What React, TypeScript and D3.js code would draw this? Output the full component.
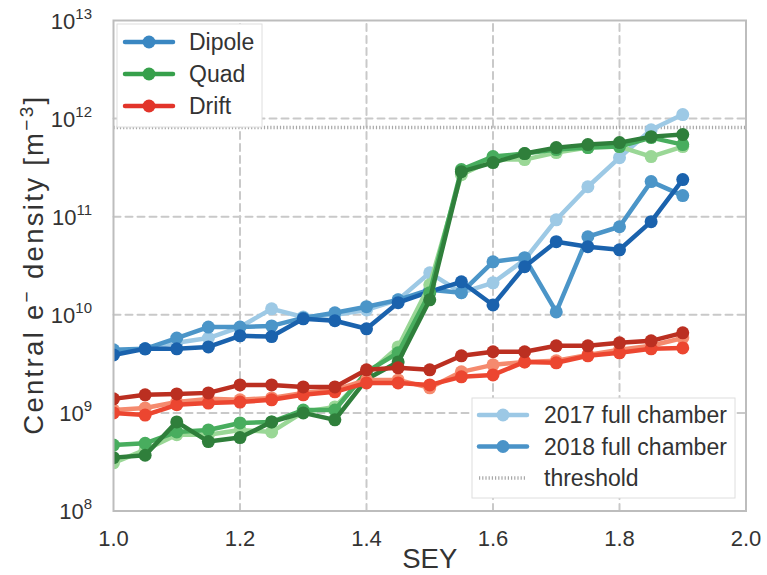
import React from "react";
import * as d3 from "d3";

// SEY scan points
const sey = [1.0, 1.05, 1.1, 1.15, 1.2, 1.25, 1.3, 1.35, 1.4, 1.45, 1.5, 1.55, 1.6, 1.65, 1.7, 1.75, 1.8, 1.85, 1.9];

// Central electron density [m^-3] per element and scan
const dipole2017 = [4.2e9, 4.5e9, 5.2e9, 5.8e9, 7.5e9, 1.15e10, 9.5e9, 1.0e10, 1.12e10, 1.42e10, 2.68e10, 1.68e10, 2.12e10, 3.64e10, 9.3e10, 2.02e11, 4.0e11, 7.7e11, 1.1e12];
const dipole2018 = [4.4e9, 4.5e9, 5.8e9, 7.5e9, 7.5e9, 7.7e9, 9.3e9, 1.05e10, 1.21e10, 1.42e10, 1.8e10, 1.68e10, 3.47e10, 3.82e10, 1.07e10, 6.25e10, 7.9e10, 2.28e11, 1.64e11];
const dipoleExtra = [3.9e9, 4.5e9, 4.5e9, 4.7e9, 6.1e9, 6.0e9, 9.1e9, 8.7e9, 7.2e9, 1.33e10, 1.72e10, 2.17e10, 1.26e10, 3.09e10, 5.56e10, 4.94e10, 4.6e10, 8.9e10, 2.39e11];

const quad2017 = [3.1e8, 4.2e8, 6.0e8, 6.0e8, 6.7e8, 6.4e8, 1.02e9, 1.15e9, 2.44e9, 4.7e9, 2.02e10, 2.68e11, 3.82e11, 3.82e11, 4.5e11, 5.06e11, 5.18e11, 4.1e11, 5.18e11];
const quad2018 = [4.7e8, 4.9e8, 6.4e8, 6.7e8, 7.9e8, 8.1e8, 1.07e9, 1.07e9, 2.62e9, 4.1e9, 1.68e10, 3.02e11, 4.1e11, 4.4e11, 4.83e11, 5.06e11, 5.18e11, 6.4e11, 5.43e11];
const quadExtra = [3.5e8, 3.7e8, 8.1e8, 5.1e8, 5.6e8, 8.1e8, 1.0e9, 8.5e8, 2.2e9, 3.31e9, 1.42e10, 2.88e11, 3.56e11, 4.4e11, 5.06e11, 5.43e11, 5.69e11, 6.55e11, 6.87e11];

const drift2017 = [1.07e9, 1.12e9, 1.29e9, 1.39e9, 1.36e9, 1.42e9, 1.6e9, 1.72e9, 2.17e9, 2.17e9, 1.8e9, 2.62e9, 3.09e9, 3.31e9, 3.4e9, 3.9e9, 4.4e9, 4.83e9, 5.8e9];
const drift2018 = [1.0e9, 9.5e8, 1.21e9, 1.26e9, 1.29e9, 1.36e9, 1.53e9, 1.64e9, 2.02e9, 2.02e9, 1.93e9, 2.33e9, 2.44e9, 3.31e9, 3.24e9, 3.82e9, 4.1e9, 4.5e9, 4.6e9];
const driftExtra = [1.39e9, 1.53e9, 1.56e9, 1.6e9, 1.93e9, 1.93e9, 1.84e9, 1.84e9, 2.75e9, 2.88e9, 2.75e9, 3.82e9, 4.2e9, 4.2e9, 4.83e9, 4.83e9, 5.18e9, 5.43e9, 6.55e9];

const thresholdValue = 8.1e11;

const xTicks = [1.0, 1.2, 1.4, 1.6, 1.8, 2.0];
const yExponents = [8, 9, 10, 11, 12, 13];

const elementLegend = [
  { label: "Dipole", color: "#3a87c2" },
  { label: "Quad", color: "#36a04b" },
  { label: "Drift", color: "#e2342a" },
];
const scanLegend = [
  { label: "2017 full chamber", color: "#9cc8e5" },
  { label: "2018 full chamber", color: "#4a93c8" },
];

const series = [
  { values: dipole2017, color: "#9dc9e5" },
  { values: dipole2018, color: "#4b95c8" },
  { values: dipoleExtra, color: "#1a62ad" },
  { values: quad2017, color: "#9ad796" },
  { values: quad2018, color: "#48ad5e" },
  { values: quadExtra, color: "#2f7f3b" },
  { values: drift2017, color: "#f58a6e" },
  { values: drift2018, color: "#ec4630" },
  { values: driftExtra, color: "#bb2f21" },
];

const W = 767;
const H = 575;
const left = 113.5;
const right = 746;
const top = 20.5;
const bottom = 511;
const FONT = "'Liberation Sans', Arial, Helvetica, sans-serif";
const TEXT = "#333333";
const TICK_FS = 22;
const LABEL_FS = 27.5;
const LEGEND_FS = 23;

export default function App() {
  const x = d3.scaleLinear().domain([1.0, 2.0]).range([left, right]);
  const y = d3.scaleLog().domain([1e8, 1e13]).range([bottom, top]);
  const line = d3
    .line<number>()
    .x((_, i) => x(sey[i]))
    .y((v) => y(v));

  const gridColor = "#c9c9c9";

  return (
    <svg
      width={W}
      height={H}
      style={{ position: "fixed", left: 0, top: 0, background: "#fff" }}
      fontFamily={FONT}
    >
      <rect x={0} y={0} width={W} height={H} fill="#fff" />
      <defs>
        <clipPath id="plot-area">
          <rect x={left} y={top} width={right - left} height={bottom - top} />
        </clipPath>
      </defs>

      {/* grid */}
      {yExponents
        .filter((e) => e > 8 && e < 13)
        .map((e) => (
          <line
            key={"gy" + e}
            x1={left}
            x2={right}
            y1={y(Math.pow(10, e))}
            y2={y(Math.pow(10, e))}
            stroke={gridColor}
            strokeWidth={2}
            strokeDasharray="7 5"
            strokeLinecap="round"
          />
        ))}
      {xTicks
        .filter((t) => t > 1.0 && t < 2.0)
        .map((t) => (
          <line
            key={"gx" + t}
            x1={x(t)}
            x2={x(t)}
            y1={bottom}
            y2={top}
            stroke={gridColor}
            strokeWidth={2}
            strokeDasharray="7 5"
            strokeLinecap="round"
          />
        ))}

      {/* threshold */}
      <line
        x1={left}
        x2={right}
        y1={y(thresholdValue)}
        y2={y(thresholdValue)}
        stroke="#a8a8a8"
        strokeWidth={3.5}
        strokeDasharray="1.2 2"
      />

      {/* series */}
      <g clipPath="url(#plot-area)">
        {series.map((s, si) => (
          <g key={"s" + si}>
            <path
              d={line(s.values) || ""}
              fill="none"
              stroke={s.color}
              strokeWidth={4.5}
              strokeLinejoin="round"
            />
            {s.values.map((v, i) => (
              <circle key={i} cx={x(sey[i])} cy={y(v)} r={6.5} fill={s.color} />
            ))}
          </g>
        ))}
      </g>

      {/* frame */}
      <rect
        x={left}
        y={top}
        width={right - left}
        height={bottom - top}
        fill="none"
        stroke="#bdbdbd"
        strokeWidth={2}
      />

      {/* x tick labels */}
      {xTicks.map((t) => (
        <text
          key={"xt" + t}
          x={x(t)}
          y={546}
          textAnchor="middle"
          fontSize={TICK_FS}
          fill={TEXT}
        >
          {d3.format(".1f")(t)}
        </text>
      ))}
      <text x={(left + right) / 2} y={568} textAnchor="middle" fontSize={LABEL_FS} fill={TEXT}>
        SEY
      </text>

      {/* y tick labels */}
      {yExponents.map((e) => (
        <text
          key={"yt" + e}
          x={92}
          y={y(Math.pow(10, e)) + 8}
          textAnchor="end"
          fontSize={TICK_FS}
          fill={TEXT}
        >
          10
          <tspan dy={-10} fontSize={15}>
            {e}
          </tspan>
        </text>
      ))}

      {/* y axis label */}
      <text
        transform={`translate(43,${(top + bottom) / 2}) rotate(-90)`}
        textAnchor="middle"
        fontSize={LABEL_FS}
        fill={TEXT}
        textLength={338}
        lengthAdjust="spacing"
      >
        Central e
        <tspan dy={-10} fontSize={19}>
          −
        </tspan>
        <tspan dy={10}>{"  density [m"}</tspan>
        <tspan dy={-10} fontSize={19}>
          −3
        </tspan>
        <tspan dy={10}>]</tspan>
      </text>

      {/* element legend */}
      <rect x={117} y={24} width={145} height={103} fill="#fff" stroke="#dedede" strokeWidth={1} />
      {elementLegend.map((d, i) => {
        const cy = 42 + i * 32;
        return (
          <g key={d.label}>
            <line x1={125} x2={173} y1={cy} y2={cy} stroke={d.color} strokeWidth={4.5} strokeLinecap="round" />
            <circle cx={149} cy={cy} r={6.5} fill={d.color} />
            <text x={189} y={cy + 8} fontSize={LEGEND_FS} fill={TEXT}>
              {d.label}
            </text>
          </g>
        );
      })}

      {/* scan legend */}
      <rect x={472} y={398} width={263} height={100} fill="#fff" stroke="#dedede" strokeWidth={1} />
      {scanLegend.map((d, i) => {
        const cy = 415 + i * 31.5;
        return (
          <g key={d.label}>
            <line x1={479} x2={527} y1={cy} y2={cy} stroke={d.color} strokeWidth={4.5} strokeLinecap="round" />
            <circle cx={503} cy={cy} r={6.5} fill={d.color} />
            <text x={544} y={cy + 8} fontSize={LEGEND_FS} fill={TEXT}>
              {d.label}
            </text>
          </g>
        );
      })}
      <line x1={479} x2={527} y1={478} y2={478} stroke="#a8a8a8" strokeWidth={3.5} strokeDasharray="1.2 2" />
      <text x={544} y={486} fontSize={LEGEND_FS} fill={TEXT}>
        threshold
      </text>
    </svg>
  );
}
